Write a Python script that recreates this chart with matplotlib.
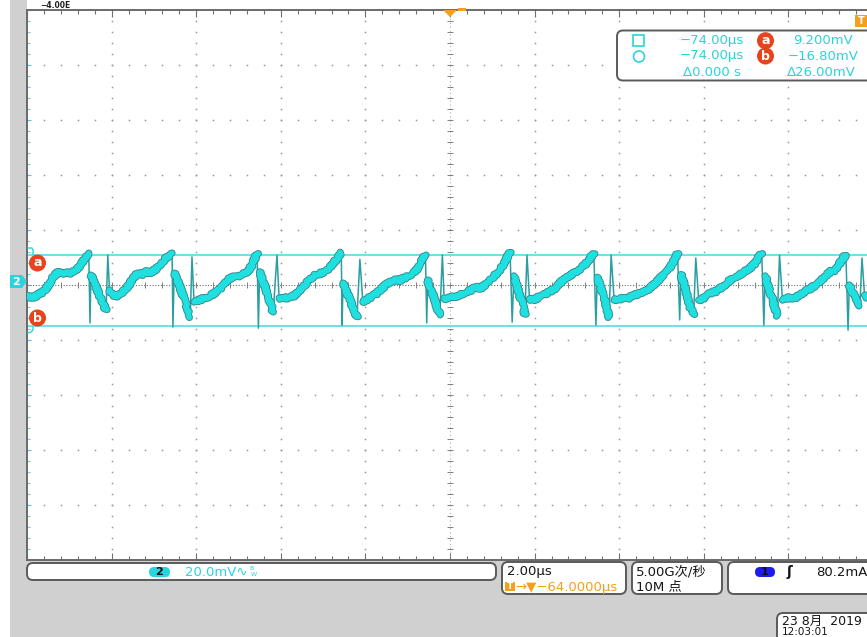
import numpy as np
import matplotlib
matplotlib.use("Agg")
import matplotlib.pyplot as plt
import matplotlib.patheffects as pe
from matplotlib.patches import Rectangle, Circle, Polygon, FancyBboxPatch

plt.rcParams['font.family'] = ['DejaVu Sans', 'Noto Sans CJK SC']

# channel 2 trace, time in us (2 us/div), voltage in mV (20 mV/div)
trace_t = [0.00, 0.08, 0.19, 0.27, 0.35, 0.43, 0.50, 0.58, 0.66, 0.74, 0.83, 0.92, 1.00, 1.08, 1.16, 1.24, 1.32, 1.40, 1.46,
           1.49, 1.51, 1.58, 1.66, 1.74, 1.81, 1.87, 1.91,
           1.95, 2.03, 2.10, 2.18, 2.26, 2.34, 2.42, 2.50, 2.58, 2.66, 2.74, 2.82, 2.90, 2.98, 3.06, 3.14, 3.22, 3.30, 3.38, 3.43,
           3.45, 3.48, 3.56, 3.64, 3.72, 3.80, 3.86, 3.90,
           3.95, 4.03, 4.11, 4.19, 4.27, 4.35, 4.43, 4.51, 4.59, 4.67, 4.75, 4.83, 4.91, 4.99, 5.07, 5.15, 5.23, 5.31, 5.38, 5.44,
           5.47, 5.50, 5.58, 5.66, 5.74, 5.82, 5.91,
           5.96, 6.04, 6.12, 6.20, 6.28, 6.36, 6.44, 6.52, 6.60, 6.68, 6.76, 6.84, 6.92, 7.00, 7.08, 7.16, 7.24, 7.32, 7.38, 7.43,
           7.45, 7.47, 7.55, 7.63, 7.71, 7.80, 7.87,
           7.94, 8.02, 8.10, 8.18, 8.26, 8.34, 8.42, 8.50, 8.58, 8.66, 8.74, 8.82, 8.90, 8.98, 9.06, 9.14, 9.22, 9.30, 9.37, 9.42,
           9.45, 9.47, 9.55, 9.63, 9.70, 9.76, 9.82,
           9.86, 9.94, 10.02, 10.12, 10.24, 10.36, 10.48, 10.60, 10.71, 10.80, 10.90, 10.98, 11.06, 11.14, 11.22, 11.30, 11.36, 11.42,
           11.47, 11.51, 11.59, 11.67, 11.73, 11.77, 11.82,
           11.88, 11.96, 12.05, 12.15, 12.25, 12.35, 12.45, 12.55, 12.65, 12.75, 12.85, 12.95, 13.03, 13.11, 13.19, 13.27, 13.34, 13.40,
           13.45, 13.48, 13.56, 13.64, 13.70, 13.76, 13.81,
           13.88, 13.98, 14.08, 14.18, 14.26, 14.36, 14.46, 14.56, 14.66, 14.74, 14.84, 14.94, 15.02, 15.10, 15.18, 15.26, 15.32, 15.38,
           15.43, 15.46, 15.54, 15.62, 15.68, 15.76, 15.81,
           15.88, 15.96, 16.06, 16.16, 16.26, 16.36, 16.46, 16.56, 16.66, 16.74, 16.84, 16.94, 17.02, 17.10, 17.18, 17.26, 17.32, 17.37,
           17.42, 17.45, 17.53, 17.61, 17.68, 17.74, 17.79,
           17.86, 17.94, 18.04, 18.14, 18.27, 18.37, 18.47, 18.57, 18.67, 18.75, 18.85, 18.93, 19.03, 19.10, 19.18, 19.26, 19.32, 19.36,
           19.41, 19.44, 19.52, 19.60, 19.69, 19.74,
           19.80, 19.88, 19.96, 20.05]
trace_v = [-5.5, -6.3, -6.0, -5.2, -4.6, -3.4, -2.0, 0.2, 1.9, 2.7, 2.3, 2.9, 2.4, 2.9, 3.8, 4.9, 6.6, 8.6, 9.8,
           -15.6, 1.8, -0.8, -3.5, -6.6, -9.0, -10.9, 9.1,
           -3.6, -5.4, -6.0, -5.2, -4.4, -3.2, -1.6, 0.6, 1.9, 2.4, 2.1, 3.0, 2.6, 3.3, 4.1, 5.4, 7.0, 8.1, 8.9, 9.8,
           -17.1, 2.5, -0.3, -3.6, -7.0, -10.8, -13.5, 8.4,
           -8.0, -7.6, -7.0, -6.6, -6.1, -5.6, -4.7, -4.0, -3.0, -1.6, 0.0, 1.0, 1.6, 1.3, 2.2, 2.5, 3.4, 5.2, 7.6, 9.8,
           -17.5, 3.0, -0.6, -4.0, -7.8, -11.6, 9.0,
           -6.5, -6.9, -6.2, -6.6, -5.9, -5.3, -4.0, -2.8, -1.3, 0.2, 1.3, 2.0, 2.4, 2.9, 3.6, 4.6, 6.1, 7.6, 8.8, 9.8,
           -16.4, -1.1, -4.0, -7.0, -10.0, -13.5, 7.5,
           -8.0, -7.2, -6.4, -5.8, -4.9, -3.8, -2.6, -1.5, -0.8, -0.4, 0.2, -0.1, 0.7, 1.1, 1.7, 2.6, 4.0, 5.8, 8.0, 9.2,
           -15.6, 0.0, -3.4, -7.0, -10.2, -12.7, 9.1,
           -6.5, -6.9, -6.2, -6.5, -5.5, -4.6, -3.8, -2.6, -3.2, -2.0, -0.4, 0.4, 1.8, 2.8, 4.6, 6.5, 8.5, 10.2,
           -15.3, 1.5, -2.5, -6.5, -9.5, -12.5, 9.0,
           -6.8, -7.2, -6.6, -5.8, -5.3, -4.2, -3.4, -2.0, -0.2, 0.9, 1.8, 2.9, 3.4, 4.8, 5.5, 7.2, 8.5, 9.8,
           -16.4, 1.0, -2.6, -6.4, -9.8, -13.5, 9.1,
           -7.3, -7.0, -6.5, -6.8, -6.2, -5.5, -4.9, -4.3, -3.6, -2.8, -1.3, 0.2, 1.8, 2.4, 3.9, 5.9, 7.9, 9.8,
           -14.5, 2.0, -2.0, -6.5, -10.0, -12.7, 8.0,
           -7.3, -6.8, -6.0, -4.6, -4.4, -3.4, -2.2, -0.8, 0.4, 0.7, 1.6, 2.9, 3.8, 4.4, 5.6, 7.1, 8.8, 9.8,
           -16.4, 1.5, -2.4, -6.4, -10.0, -13.0, 9.0,
           -7.3, -6.9, -6.3, -6.6, -5.5, -4.4, -3.6, -2.6, -1.5, -0.7, 1.2, 2.2, 3.6, 3.6, 5.5, 7.0, 8.6, 9.1,
           -18.2, -1.8, -4.5, -7.5, -9.1, 8.0,
           -5.5, -6.5, -5.0, -4.0]
# narrow glitch extremes (drawn thin, not as the noisy band)
spike_t = [1.49, 1.91, 3.45, 3.90, 5.47, 5.91, 7.45, 7.87, 9.45, 9.82, 11.47, 11.82,
           13.45, 13.81, 15.43, 15.81, 17.42, 17.79, 19.41, 19.74]

cursor_a = 9.2
cursor_b = -16.8
ground_off = 1.8  # ground marker sits slightly above the centre line

CYAN = '#2ad4dc'
ORANGE = '#f5a01a'
RED = '#e8431c'

fig = plt.figure(figsize=(8.67, 6.37), dpi=100)
fig.patch.set_facecolor('white')

bg = fig.add_axes([0, 0, 1, 1], zorder=0)
bg.set_xlim(0, 867); bg.set_ylim(637, 0); bg.axis('off')
bg.add_patch(Rectangle((10, 0), 870, 640, fc='#d0d0d0', ec='none'))
bg.add_patch(Rectangle((27, 0), 850, 10, fc='white', ec='none'))

ax = fig.add_axes([27 / 867, 77 / 637, 846 / 867, 550 / 637], zorder=1)
ax.set_facecolor('white')
ax.set_xlim(0, 20)
ax.set_ylim(-ground_off - 100, -ground_off + 100)
ax.set_xticks(np.arange(0, 20.01, 2))
ax.set_xticks(np.arange(0, 20.01, 0.4), minor=True)
ax.set_yticks(np.arange(-ground_off - 100, 98.5, 20))
ax.set_yticks(np.arange(-ground_off - 100, 98.5, 4), minor=True)
ax.tick_params(which='both', direction='in', top=True, right=True,
               labelbottom=False, labelleft=False, color='#707070', width=0.8)
ax.tick_params(which='major', length=5)
ax.tick_params(which='minor', length=3)
ax.tick_params(axis='y', which='major', length=3, color='#50c8d0')
ax.tick_params(axis='y', which='minor', length=2, color='#70d0d8')
for side, sp in ax.spines.items():
    sp.set_color('#6a6a6a')
    sp.set_linewidth(1.4)

# dotted graticule
tm = np.arange(0, 20.01, 0.4)
vm = np.arange(-ground_off - 100, 98.5, 4)
for tx in np.arange(2, 19, 2):
    if tx != 10:
        ax.plot([tx] * len(vm), vm, ls='none', marker='s', ms=1.1, mew=0, color='#989898')
for vy in np.arange(-ground_off - 80, 90, 20):
    if abs(vy + ground_off) > 1:
        ax.plot(tm, [vy] * len(tm), ls='none', marker='s', ms=1.1, mew=0, color='#989898')
ax.axhline(-ground_off, color='#707070', lw=0.8, ls=(0, (1, 1.5)))
ax.plot(tm, [-ground_off] * len(tm), ls='none', marker='|', ms=4, mew=0.7, color='#808080')
ax.axvline(10, color='#a0a0a0', lw=0.7, ls=(0, (1, 3)))
ax.plot([10] * len(vm), vm, ls='none', marker='_', ms=4, mew=0.7, color='#808080')

# cursors
ax.axhline(cursor_a, color='#5ee0e6', lw=1.3)
ax.axhline(cursor_b, color='#5ee0e6', lw=1.3)

# waveform
t = np.array(trace_t)
v = np.array(trace_v)
band = v.copy()
band[np.isin(t, spike_t)] = np.nan
ax.plot(t, v, color='#2a9ea0', lw=1.1, zorder=3)
ln, = ax.plot(t, band, color='#1ee0e0', lw=3.8, solid_joinstyle='round', solid_capstyle='round', zorder=4,
              path_effects=[pe.Stroke(linewidth=5.2, foreground='#3a8f90'), pe.Normal()])
ln.set_sketch_params(scale=1.4, length=1.5, randomness=3)

# overlay in pixel coordinates
ov = fig.add_axes([0, 0, 1, 1], zorder=2)
ov.set_xlim(0, 867); ov.set_ylim(637, 0); ov.axis('off')
ov.patch.set_alpha(0)


def rbox(x, y, w, h, fc='white'):
    ov.add_patch(FancyBboxPatch((x, y), w, h, boxstyle='round,pad=0,rounding_size=6',
                                fc=fc, ec='#5a5a5a', lw=1.4))


def red_label(x, y, s):
    ov.text(x, y, s, ha='center', va='center', color='white', fontsize=9, weight='bold',
            bbox=dict(boxstyle='circle,pad=0.16', fc=RED, ec='none'))


# trigger marks
ov.add_patch(Polygon([(443, 10), (457, 10), (450, 17)], closed=True, fc=ORANGE, ec='none'))
ov.add_patch(Rectangle((458, 8), 8, 3, fc=ORANGE, ec='none'))
ov.add_patch(Rectangle((855, 15), 14, 12, fc=ORANGE, ec='none'))
ov.text(861, 21.5, 'T', ha='center', va='center', color='white', fontsize=7, weight='bold')
ov.text(40, 0.5, '−4.00E', ha='left', va='top', fontsize=5.5, color='#202020', weight='bold')

# channel 2 marker and cursor tags
ov.add_patch(Polygon([(10, 275), (22, 275), (27, 281.5), (22, 288), (10, 288)], closed=True, fc=CYAN, ec='none'))
ov.text(16, 281.8, '2', ha='center', va='center', color='white', fontsize=8, weight='bold')
ov.plot([28, 32, 33, 33], [248, 248, 250, 254], color=CYAN, lw=1)
ov.plot([28, 31, 33, 33], [333, 332, 330, 327], color=CYAN, lw=1)
red_label(37.5, 263, 'a')
red_label(37.5, 318, 'b')

# cursor readout box
rbox(617, 30.5, 270, 50)
ov.add_patch(Rectangle((633, 35), 11, 11, fc='none', ec=CYAN, lw=1.2))
ov.add_patch(Circle((639, 56.5), 5.5, fc='none', ec=CYAN, lw=1.2))
for yy, s in [(40.7, '−74.00µs'), (56, '−74.00µs')]:
    ov.text(680, yy, s, ha='left', va='center', color=CYAN, fontsize=9.5)
ov.text(683, 72.3, 'Δ0.000 s', ha='left', va='center', color=CYAN, fontsize=9.5)
red_label(765.5, 40.7, 'a')
red_label(765.5, 56, 'b')
ov.text(793, 40.7, '9.200mV', ha='left', va='center', color=CYAN, fontsize=9.5)
ov.text(788, 56, '−16.80mV', ha='left', va='center', color=CYAN, fontsize=9.5)
ov.text(787, 72.3, 'Δ26.00mV', ha='left', va='center', color=CYAN, fontsize=9.5)

# bottom status bar
rbox(27, 563, 469, 17)
ov.add_patch(FancyBboxPatch((149, 567), 21, 10, boxstyle='round,pad=0,rounding_size=5', fc=CYAN, ec='none'))
ov.text(159.5, 572.3, '2', ha='center', va='center', fontsize=8, weight='bold', color='#101010')
ov.text(185, 572, '20.0mV∿', ha='left', va='center', color=CYAN, fontsize=9.5)
ov.text(249, 569, 'B', ha='left', va='center', color=CYAN, fontsize=4.5)
ov.text(251, 575, 'W', ha='left', va='center', color=CYAN, fontsize=4.5)

rbox(502, 562, 124, 32)
ov.text(507, 572, '2.00µs', ha='left', va='center', fontsize=9.5, color='#151515')
ov.add_patch(Rectangle((505, 582), 10, 9, fc=ORANGE, ec='none'))
ov.text(510, 586.8, 'T', ha='center', va='center', color='white', fontsize=6.5, weight='bold')
ov.text(515, 587, '→▼−64.0000µs', ha='left', va='center', fontsize=9.5, color=ORANGE)

rbox(632, 562, 90, 32)
ov.text(636, 572, '5.00G次/秒', ha='left', va='center', fontsize=9.5, color='#151515')
ov.text(636, 587, '10M 点', ha='left', va='center', fontsize=9.5, color='#151515')

rbox(728, 562, 160, 32)
ov.add_patch(FancyBboxPatch((755, 567), 20, 10, boxstyle='round,pad=0,rounding_size=5', fc='#1c1cf0', ec='none'))
ov.text(765, 572.3, '1', ha='center', va='center', fontsize=8, weight='bold', color='#101010')
ov.text(787, 572, 'ʃ', ha='left', va='center', fontsize=10, weight='bold', color='#151515')
ov.text(816, 572, '80.2mA', ha='left', va='center', fontsize=9.5, color='#151515')

rbox(777, 613, 110, 40)
ov.text(782, 621, '23 8月  2019', ha='left', va='center', fontsize=9, color='#151515')
ov.text(782, 627, '12:03:01', ha='left', va='top', fontsize=7.5, color='#151515')

fig.savefig('out.png', dpi=100)
